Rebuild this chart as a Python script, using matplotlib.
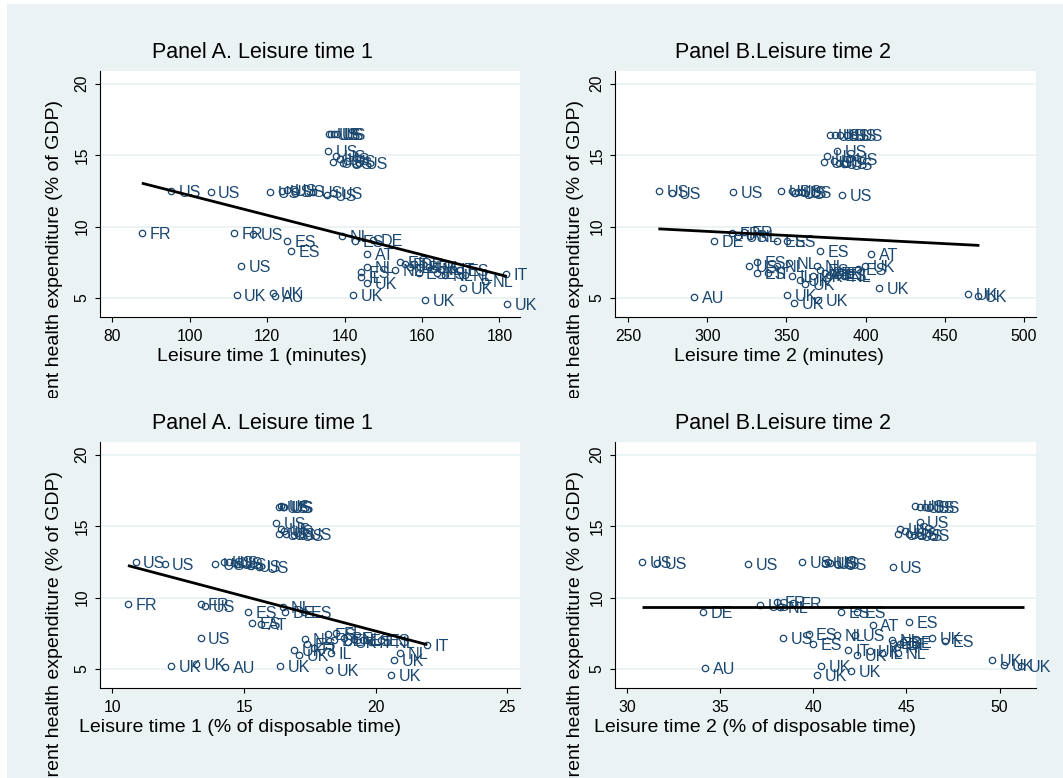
import matplotlib.pyplot as plt
from matplotlib.patches import Rectangle
from matplotlib.transforms import Bbox, TransformedBbox

plt.rcParams['font.family'] = ['Liberation Sans', 'DejaVu Sans']

W, H = 1063, 778
NAVY = '#1a476f'
BG = '#eaf2f3'
YLAB = 'Current health expenditure (% of GDP)'

# Panel A: leisure time 1 (minutes)
a_x = [136.0, 136.6, 137.2, 137.9, 135.8,
       137.8, 138.8, 137.1, 139.7, 140.5, 143.6,
       95.1, 105.4, 120.7, 123.8, 125.1, 127.2, 131.9, 135.4, 137.1,
       87.6, 111.4, 116.4, 125.2, 126.1, 139.4, 142.7, 147.3, 145.9, 113.2,
       112.1, 121.6, 122.0, 142.1, 160.8, 170.7, 181.9, 181.7, 176.3,
       145.9, 144.3, 144.3, 145.9, 153.0, 154.3, 155.6, 156.9, 157.8, 159.1,
       159.5, 161.7, 163.0, 163.8, 166.0, 167.9, 169.8, 171.1]
a_y = [16.45, 16.45, 16.47, 16.45, 15.31,
       14.94, 14.73, 14.50, 14.43, 14.60, 14.45,
       12.52, 12.41, 12.41, 12.52, 12.55, 12.50, 12.41, 12.22, 12.33,
       9.58, 9.58, 9.50, 9.00, 8.28, 9.31, 8.96, 9.07, 8.10, 7.21,
       5.18, 5.35, 5.15, 5.20, 4.88, 5.70, 4.60, 6.70, 6.16,
       7.17, 6.82, 6.44, 6.05, 6.98, 7.49, 7.40, 7.20, 7.40, 6.75,
       7.20, 7.20, 7.00, 6.75, 6.58, 7.00, 6.98, 6.60]
a_lab = ['US'] * 20 + ['FR', 'FR', 'US', 'ES', 'ES', 'NL', 'ES', 'DE', 'AT', 'US',
         'UK', 'UK', 'AU', 'UK', 'UK', 'UK', 'UK', 'IT', 'NL',
         'NL', 'ES', 'IL', 'UK', 'NL', 'ES', 'FI', 'IL', 'DE', 'ES',
         'BE', 'UK', 'NL', 'ES', 'NL', 'IT', 'ES', 'NL']
a_fit_x = [87.6, 181.9]
a_fit_y = [13.04, 6.51]

# Panel B: leisure time 2 (minutes)
b_x = [377.7, 380.9, 384.0, 388.3, 392.5, 381.9,
       375.6, 373.5, 379.9, 383.0, 386.1, 389.3,
       269.6, 277.4, 316.5, 346.5, 353.4, 355.5, 359.7, 385.1, 357.0,
       304.2, 315.8, 319.5, 323.0, 327.0, 343.9, 350.2, 371.3, 403.6,
       331.3, 326.1, 331.3, 338.6, 343.9, 351.9, 353.4, 358.7, 361.8, 367.1,
       369.2, 371.3, 374.5, 376.6, 379.7, 382.9, 386.1, 390.3, 395.2, 399.8,
       408.5, 291.6, 350.6, 354.9, 370.2, 464.8, 470.9]
b_y = [16.43, 16.43, 16.40, 16.43, 16.40, 15.31,
       14.94, 14.50, 14.60, 14.45, 14.40, 14.70,
       12.52, 12.36, 12.41, 12.52, 12.52, 12.36, 12.41, 12.22, 12.45,
       9.00, 9.58, 9.31, 9.65, 9.31, 9.00, 8.96, 8.28, 8.10,
       7.52, 7.21, 6.77, 6.73, 7.21, 7.45, 6.51, 6.23, 6.00, 6.51,
       7.21, 6.98, 6.75, 6.63, 6.75, 6.58, 6.51, 6.65, 7.00, 7.23,
       5.67, 5.10, 5.20, 4.64, 4.88, 5.28, 5.12]
b_lab = ['US'] * 21 + ['DE', 'FR', 'US', 'FR', 'NL', 'ES', 'ES', 'ES', 'AT',
         'ES', 'US', 'ES', 'IT', 'NL', 'NL', 'IL', 'UK', 'UK', 'UK',
         'NL', 'ES', 'DE', 'FI', 'BE', 'ES', 'NL', 'IL', 'ES', 'UK',
         'UK', 'AU', 'UK', 'UK', 'UK', 'UK', 'UK']
b_fit_x = [269.0, 472.0]
b_fit_y = [9.84, 8.68]

# Panel C: leisure time 1 (% of disposable time)
c_x = [16.34, 16.42, 16.48, 16.53, 16.22,
       16.40, 16.53, 16.34, 16.59, 16.91, 17.22,
       10.88, 11.98, 13.90, 14.25, 14.44, 14.76, 15.27, 15.58, 14.60,
       10.59, 13.35, 13.53, 15.14, 15.30, 15.64, 16.47, 16.56, 17.26, 13.35,
       17.31, 17.41, 16.91, 17.10, 17.66, 18.30, 18.17, 18.48, 18.42, 18.80,
       18.93, 19.18, 19.50, 19.81, 20.19, 20.44, 20.92, 20.69, 21.96,
       12.22, 13.18, 14.28, 16.36, 18.22, 20.60]
c_y = [16.36, 16.38, 16.36, 16.35, 15.24,
       14.80, 14.68, 14.45, 14.45, 14.40, 14.45,
       12.47, 12.36, 12.36, 12.47, 12.52, 12.36, 12.24, 12.13, 12.45,
       9.56, 9.56, 9.44, 8.96, 8.23, 8.12, 9.37, 8.96, 9.00, 7.16,
       7.07, 6.77, 6.35, 6.00, 6.50, 6.15, 7.47, 7.52, 7.00, 7.20,
       6.86, 7.10, 7.00, 6.86, 7.00, 6.86, 6.15, 5.65, 6.65,
       5.18, 5.35, 5.15, 5.20, 4.90, 4.60]
c_lab = ['US'] * 20 + ['FR', 'FR', 'US', 'ES', 'ES', 'AT', 'NL', 'DE', 'ES', 'US',
         'NL', 'ES', 'UK', 'UK', 'FI', 'IL', 'ES', 'FI', 'DE', 'BE',
         'UK', 'NL', 'ES', 'IT', 'ES', 'NL', 'NL', 'UK', 'IT',
         'UK', 'UK', 'AU', 'UK', 'UK', 'UK']
c_fit_x = [10.59, 21.96]
c_fit_y = [12.24, 6.70]

# Panel D: leisure time 2 (% of disposable time)
d_x = [45.47, 45.74, 46.00, 46.28, 45.71,
       44.66, 44.93, 44.57, 45.11, 45.39, 45.74,
       30.79, 31.60, 36.51, 39.38, 40.63, 40.81, 41.26, 44.25, 40.90,
       34.09, 37.13, 38.03, 38.20, 38.92, 41.49, 42.33, 43.19, 45.16, 38.39,
       39.74, 39.99, 41.26, 41.88, 42.24, 42.33, 43.05, 43.68, 44.21, 44.30,
       44.48, 44.66, 44.84, 44.57, 46.37, 47.09,
       34.18, 40.41, 40.22, 42.03, 49.62, 50.25, 51.15]
d_y = [16.38, 16.36, 16.36, 16.36, 15.27,
       14.80, 14.68, 14.45, 14.45, 14.40, 14.40,
       12.47, 12.45, 12.36, 12.47, 12.40, 12.47, 12.36, 12.17, 12.40,
       8.96, 9.49, 9.68, 9.33, 9.60, 8.96, 8.96, 8.07, 8.26, 7.16,
       7.45, 6.77, 7.40, 6.32, 7.35, 5.95, 6.25, 6.15, 7.03, 6.84,
       6.56, 6.72, 6.91, 6.14, 7.16, 6.93,
       5.10, 5.18, 4.60, 4.85, 5.65, 5.25, 5.20]
d_lab = ['US'] * 20 + ['DE', 'US', 'FR', 'NL', 'FR', 'ES', 'ES', 'AT', 'ES', 'US',
         'ES', 'ES', 'NL', 'IT', 'US', 'UK', 'UK', 'IL', 'NL', 'ES',
         'FI', 'DE', 'BE', 'NL', 'UK', 'ES',
         'AU', 'UK', 'UK', 'UK', 'UK', 'UK', 'UK']
d_fit_x = [30.78, 51.33]
d_fit_y = [9.33, 9.33]

fig = plt.figure(figsize=(W / 100, H / 100), dpi=100, facecolor='white')
fig.patches.append(Rectangle((7 / W, 0), 1 - 7 / W, 1 - 4 / H, transform=fig.transFigure,
                             facecolor=BG, edgecolor='none', zorder=-10))


def fx(px):
    return px / W


def fy(py):
    return 1 - py / H


def panel(box, xs, ys, labs, fit_x, fit_y, xlim, xticks, title, xlabel,
          cx_title, cx_xlabel, ylab_x, clip_bottom):
    l, t, r, b = box
    ax = fig.add_axes([fx(l), fy(b), fx(r) - fx(l), fy(t) - fy(b)])
    ax.set_facecolor('white')
    ax.set_xlim(*xlim)
    ax.set_ylim(3.67, 20.89)
    ax.set_xticks(xticks)
    ax.set_yticks([5, 10, 15, 20])
    ax.grid(axis='y', color=BG, lw=1.3)
    ax.set_axisbelow(True)
    for s in ['top', 'right']:
        ax.spines[s].set_visible(False)
    for s in ['left', 'bottom']:
        ax.spines[s].set_color('black')
        ax.spines[s].set_linewidth(0.8)
    ax.tick_params(axis='both', direction='out', length=3.6, width=0.8, labelsize=11.3)
    ax.tick_params(axis='x', pad=5)
    ax.tick_params(axis='y', labelrotation=90, pad=4)
    for lbl in ax.get_yticklabels():
        lbl.set_va('center')

    ax.plot(xs, ys, 'o', mfc='none', mec=NAVY, ms=4.6, mew=0.9, clip_on=False, zorder=3)
    for x, y, s in zip(xs, ys, labs):
        ax.annotate(s, (x, y), xytext=(7.5, -1.5), textcoords='offset pixels', ha='left',
                    va='center', color=NAVY, fontsize=11.6, annotation_clip=False, zorder=4)
    ax.plot(fit_x, fit_y, color='black', lw=2.0, solid_capstyle='butt', zorder=5)

    fig.text(fx(cx_title), fy(t - 18), title, ha='center', va='center', fontsize=15.5)
    fig.text(fx(cx_xlabel), fy(b + 39), xlabel, ha='center', va='center', fontsize=14)
    yl = fig.text(fx(ylab_x), fy(t + 29), YLAB, rotation=90, ha='center', va='top', fontsize=14)
    yl.set_clip_box(TransformedBbox(Bbox([[0, fy(clip_bottom)], [1, 1]]), fig.transFigure))
    yl.set_clip_on(True)
    return ax


panel((100, 71, 520, 317), a_x, a_y, a_lab, a_fit_x, a_fit_y, (76.8, 185.3),
      [80, 100, 120, 140, 160, 180], 'Panel A. Leisure time 1', 'Leisure time 1 (minutes)',
      262, 262, 55, 398)
panel((615, 71, 1036, 317), b_x, b_y, b_lab, b_fit_x, b_fit_y, (241.6, 507.8),
      [250, 300, 350, 400, 450, 500], 'Panel B.Leisure time 2', 'Leisure time 2 (minutes)',
      783, 779, 575, 398)
panel((100, 442, 520, 688), c_x, c_y, c_lab, c_fit_x, c_fit_y, (9.53, 25.48),
      [10, 15, 20, 25], 'Panel A. Leisure time 1', 'Leisure time 1 (% of disposable time)',
      262, 240, 55, 778)
panel((615, 442, 1036, 688), d_x, d_y, d_lab, d_fit_x, d_fit_y, (29.34, 51.96),
      [30, 35, 40, 45, 50], 'Panel B.Leisure time 2', 'Leisure time 2 (% of disposable time)',
      783, 755, 575, 778)

fig.savefig('out.png', dpi=100, facecolor=fig.get_facecolor())
